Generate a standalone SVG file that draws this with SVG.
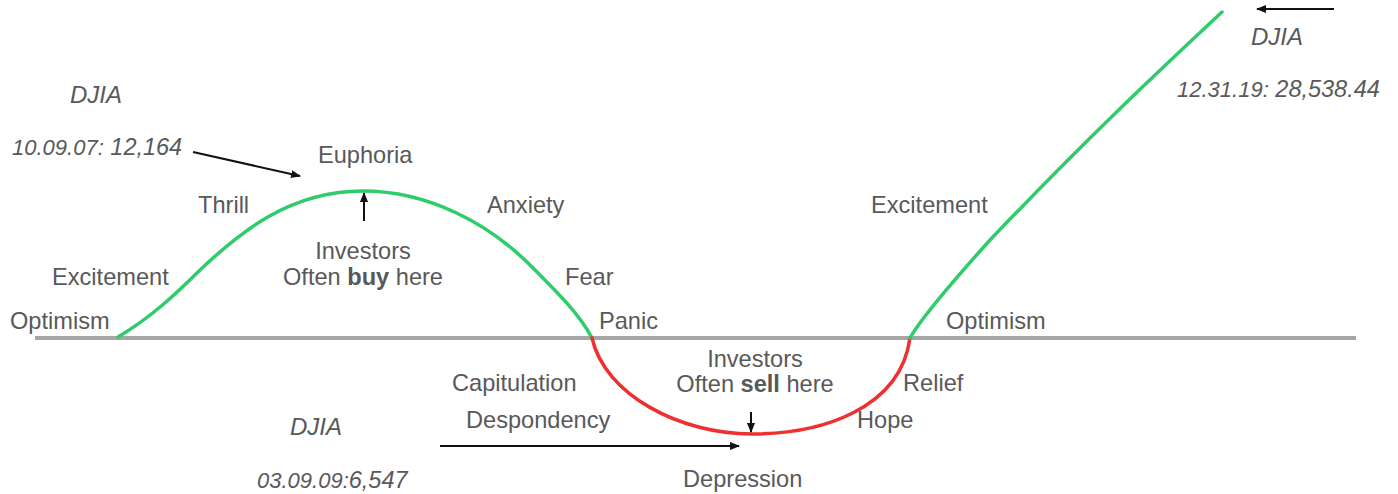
<svg xmlns="http://www.w3.org/2000/svg" width="1398" height="494" viewBox="0 0 1398 494">
<style>
text{font-family:"Liberation Sans",Arial,sans-serif;fill:#595959;font-size:23.6px}
.it{font-style:italic}
.dt{font-size:22px}
.vl{font-size:23.5px}
.dj{font-size:24px}
.b{font-weight:bold}
.conn{stroke:#111;stroke-width:2;fill:none}
.g{stroke:#2fcc6b;stroke-width:3.5;fill:none;stroke-linecap:round}
.r{stroke:#ee3030;stroke-width:3.5;fill:none;stroke-linecap:round}
</style>
<defs>
<marker id="ah" markerWidth="10" markerHeight="8" refX="9" refY="4" orient="auto" markerUnits="userSpaceOnUse">
<path d="M0,0 L10,4 L0,8 Z" fill="#111"/>
</marker>
</defs>
<rect width="1398" height="494" fill="#fff"/>
<g id="axis"><line x1="35" y1="338" x2="1356" y2="338" stroke="#a6a6a6" stroke-width="4"/></g>
<g id="curves">
<path class="g" d="M118,337 C150,318 175,295 200,270 C240,232 290,191 363,191 C430,191 490,225 530,265 C560,295 580,315 592,338"/>
<path class="r" d="M592,338 C605,395 680,434 752,434 C820,434 900,410 910,338"/>
<path class="g" d="M910,338 C920,320 945,290 990,240 C1090,135 1160,70 1222,12"/>
</g>
<g id="connectors">
<line class="conn" x1="193" y1="152" x2="300" y2="176" marker-end="url(#ah)"/>
<line class="conn" x1="364" y1="221" x2="364" y2="193" marker-end="url(#ah)"/>
<line class="conn" x1="751" y1="412" x2="751" y2="432" marker-end="url(#ah)"/>
<line class="conn" x1="440" y1="446" x2="739" y2="446" marker-end="url(#ah)"/>
<line class="conn" x1="1334" y1="9" x2="1257" y2="9" marker-end="url(#ah)"/>
</g>
<g id="djia-2007">
<text class="it dj" x="70" y="103">DJIA</text>
<text class="it" x="12" y="155"><tspan class="dt">10.09.07:</tspan> <tspan class="vl">12,164</tspan></text>
</g>
<g id="djia-2019">
<text class="it dj" x="1251" y="45">DJIA</text>
<text class="it" x="1177" y="97"><tspan class="dt">12.31.19:</tspan> <tspan class="vl">28,538.44</tspan></text>
</g>
<g id="djia-2009">
<text class="it dj" x="290" y="435">DJIA</text>
<text class="it" x="257" y="488"><tspan class="dt">03.09.09:</tspan><tspan class="vl">6,547</tspan></text>
</g>
<g id="optimism-1"><text x="10" y="329">Optimism</text></g>
<g id="excitement-1"><text x="52" y="285">Excitement</text></g>
<g id="thrill"><text x="198" y="213">Thrill</text></g>
<g id="euphoria"><text x="318" y="163">Euphoria</text></g>
<g id="buy-note"><text x="363" y="259" text-anchor="middle">Investors</text><text x="363" y="285" text-anchor="middle">Often <tspan class="b">buy</tspan> here</text></g>
<g id="anxiety"><text x="487" y="213">Anxiety</text></g>
<g id="fear"><text x="565" y="285">Fear</text></g>
<g id="panic"><text x="599" y="329">Panic</text></g>
<g id="capitulation"><text x="452" y="391">Capitulation</text></g>
<g id="despondency"><text x="466" y="428">Despondency</text></g>
<g id="sell-note"><text x="755" y="367" text-anchor="middle">Investors</text><text x="755" y="392" text-anchor="middle">Often <tspan class="b">sell</tspan> here</text></g>
<g id="depression"><text x="683" y="487">Depression</text></g>
<g id="hope"><text x="857" y="428">Hope</text></g>
<g id="relief"><text x="903" y="391">Relief</text></g>
<g id="optimism-2"><text x="946" y="329">Optimism</text></g>
<g id="excitement-2"><text x="871" y="213">Excitement</text></g>
</svg>
